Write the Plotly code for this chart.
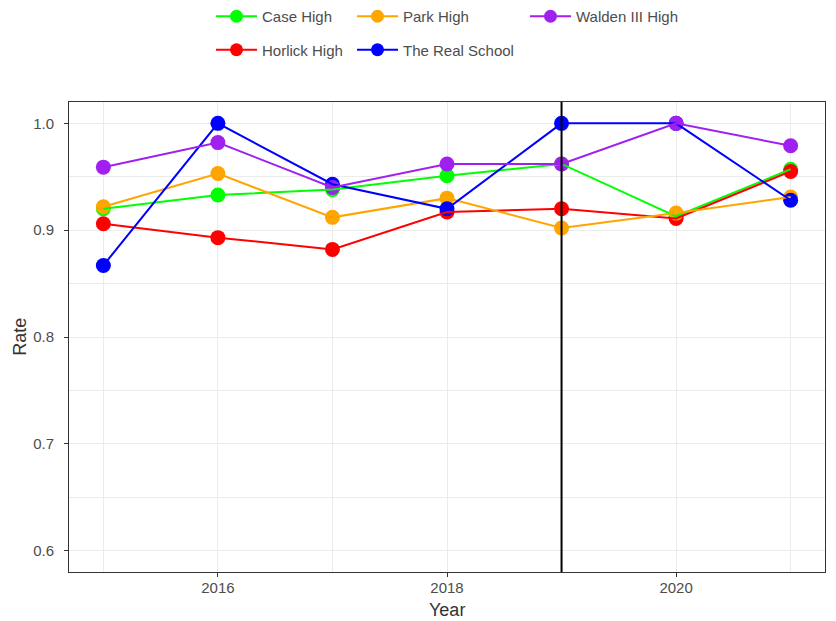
import plotly.graph_objects as go

years = [2015, 2016, 2017, 2018, 2019, 2020, 2021]
case_high = [0.920, 0.933, 0.938, 0.951, 0.962, 0.913, 0.957]
horlick_high = [0.906, 0.893, 0.882, 0.917, 0.920, 0.911, 0.955]
park_high = [0.922, 0.953, 0.912, 0.930, 0.902, 0.916, 0.931]
real_school = [0.867, 1.000, 0.943, 0.920, 1.000, 1.000, 0.928]
walden_high = [0.959, 0.982, 0.940, 0.962, 0.962, 1.000, 0.979]
marker_year = 2019

series = [
    ("Case High", case_high, "#00FF00", "legend"),
    ("Horlick High", horlick_high, "#FF0000", "legend"),
    ("Park High", park_high, "#FFA500", "legend2"),
    ("The Real School", real_school, "#0000FF", "legend2"),
    ("Walden III High", walden_high, "#A020F0", "legend3"),
]

FONT = "Liberation Sans, Arial, sans-serif"
fig = go.Figure()

# points first (ggplot draws lines over points here)
for name, vals, col, lg in series:
    fig.add_trace(go.Scatter(x=years, y=vals, mode="markers", showlegend=False,
                             marker=dict(color=col, size=15, line=dict(width=0)),
                             hoverinfo="skip"))
for name, vals, col, lg in series:
    fig.add_trace(go.Scatter(x=years, y=vals, mode="lines", showlegend=False,
                             line=dict(color=col, width=2), name=name))
# legend entries
for i, (name, vals, col, lg) in enumerate(series):
    fig.add_trace(go.Scatter(x=[None], y=[None], mode="lines+markers", name=name,
                             legend=lg, legendgroup=name,
                             line=dict(color=col, width=2),
                             marker=dict(color=col, size=13)))

fig.add_shape(type="line", x0=marker_year, x1=marker_year, xref="x",
              y0=0, y1=1, yref="paper", line=dict(color="black", width=2))

# axis titles as annotations
fig.add_annotation(text="Year", xref="paper", yref="paper", x=0.5, y=-0.081,
                   xanchor="center", yanchor="middle", showarrow=False,
                   font=dict(family=FONT, size=18, color="#333333"))
fig.add_annotation(text="Rate", xref="paper", yref="paper", x=-0.065, y=0.5,
                   xanchor="center", yanchor="middle", showarrow=False, textangle=-90,
                   font=dict(family=FONT, size=18, color="#333333"))

leg_common = dict(orientation="v", xref="container", yref="container",
                  xanchor="left", yanchor="top", y=1.0,
                  font=dict(family=FONT, size=15, color="#4D4D4D"),
                  bgcolor="rgba(0,0,0,0)", itemwidth=41, tracegroupgap=11)
fig.update_layout(
    width=836, height=621,
    margin=dict(l=69, r=11, t=102, b=49, autoexpand=False),
    plot_bgcolor="white", paper_bgcolor="white",
    font=dict(family=FONT),
    legend=dict(x=211/836, **leg_common),
    legend2=dict(x=352/836, **leg_common),
    legend3=dict(x=525/836, **leg_common),
    xaxis=dict(range=[2014.7, 2021.3], tickvals=[2016, 2018, 2020],
               showgrid=True, gridcolor="#EBEBEB", gridwidth=1.3,
               minor=dict(tickvals=[2015, 2017, 2019, 2021], showgrid=True,
                          gridcolor="#EBEBEB", gridwidth=0.7, ticklen=0),
               showline=True, mirror=True, linecolor="#333333", linewidth=1,
               ticks="outside", ticklen=4, tickcolor="#333333", ticklabelstandoff=-2,
               tickfont=dict(size=15, color="#4D4D4D"), zeroline=False),
    yaxis=dict(range=[0.58, 1.02], tickvals=[0.6, 0.7, 0.8, 0.9, 1.0], tickformat=".1f",
               showgrid=True, gridcolor="#EBEBEB", gridwidth=1.3,
               minor=dict(tickvals=[0.65, 0.75, 0.85, 0.95], showgrid=True,
                          gridcolor="#EBEBEB", gridwidth=0.7, ticklen=0),
               showline=True, mirror=True, linecolor="#333333", linewidth=1,
               ticks="outside", ticklen=4, tickcolor="#333333", ticklabelstandoff=7,
               tickfont=dict(size=15, color="#4D4D4D"), zeroline=False),
)

fig.write_html("out.html", config={"displayModeBar": False},
               post_script="document.body.style.margin='0';")
